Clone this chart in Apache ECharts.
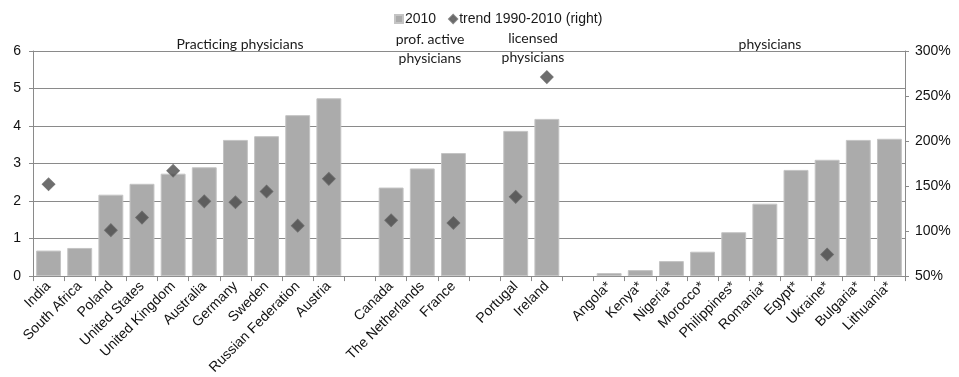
<!DOCTYPE html>
<html>
<head>
<meta charset="utf-8">
<title>physicians</title>
<script src="https://cdn.jsdelivr.net/npm/echarts@6/dist/echarts.min.js"></script>
<style>
	html,body{margin:0;padding:0;background:#fff;}
	#chart{width:959px;height:377px;}
</style>
</head>
<body>
<div id="chart"></div>
<script>
/*********
 * data  (gaps between groups = blank categories)
 * ******************/
var categories = ['India','South Africa','Poland','United States','United Kingdom','Australia','Germany','Sweden','Russian Federation','Austria',' ',
	'Canada','The Netherlands','France','  ',
	'Portugal','Ireland','   ',
	'Angola*','Kenya*','Nigeria*','Morocco*','Philippines*','Romania*','Egypt*','Ukraine*','Bulgaria*','Lithuania*'];

var values2010 = [0.68,0.75,2.17,2.46,2.73,2.90,3.63,3.73,4.29,4.74,null,
	2.36,2.87,3.28,null,
	3.87,4.19,null,
	0.08,0.16,0.40,0.65,1.17,1.93,2.83,3.10,3.63,3.66];

var trend = [152,null,101,115,167,133,132,144,106,158,null,
	112,null,109,null,
	138,271,null,
	null,null,null,null,null,null,null,74,null,null];

var leftTicks  = {min:0, max:6, interval:1};
var rightTicks = {min:50, max:300, interval:50};

var groupLabels = [
	{text:'Practicing physicians', x:240, y:44},
	{text:'prof. active\nphysicians', x:430, y:49},
	{text:'licensed\nphysicians', x:533, y:48},
	{text:'physicians', x:770, y:44}
];

var axisColor = '#8a8a8a';
var txtFont   = "'Liberation Sans', Arial, sans-serif";

//group titles above the bars
var graphics = [];
for(var i=0;i<groupLabels.length;i++){
	graphics.push({
		type:'text', x:groupLabels[i].x, y:groupLabels[i].y,
		style:{text:groupLabels[i].text, font:"14px Lato, sans-serif", fill:'#1a1a1a',
			textAlign:'center', textVerticalAlign:'middle', lineHeight:19}
	});
}

var ctx = echarts.init(document.getElementById('chart'));
ctx.setOption({
	animation:false,
	textStyle:{fontFamily:txtFont},
	legend:{
		left:389, top:7,
		itemGap:12, itemWidth:8, itemHeight:8,
		textStyle:{fontSize:14, color:'#1a1a1a', fontFamily:txtFont, padding:[0,0,0,-3]},
		data:[
			{name:'2010', icon:'rect'},
			{name:'trend 1990-2010 (right)', icon:'path://M0,-1L1,0L0,1L-1,0Z'}
		]
	},
	grid:{left:33, right:54, top:51, bottom:100, containLabel:false},
	xAxis:{
		type:'category', data:categories,
		axisLine:{lineStyle:{color:axisColor}},
		axisTick:{show:true, interval:0, length:5, lineStyle:{color:axisColor}},
		axisLabel:{interval:0, rotate:45, fontSize:14, color:'#111', margin:8, fontFamily:txtFont}
	},
	yAxis:[{
		type:'value', min:leftTicks.min, max:leftTicks.max, interval:leftTicks.interval,
		axisLine:{show:true, lineStyle:{color:axisColor}},
		axisTick:{show:true, length:4, lineStyle:{color:axisColor}},
		axisLabel:{fontSize:14, color:'#111', margin:12, fontFamily:txtFont},
		splitLine:{lineStyle:{color:axisColor}}
	},{
		type:'value', min:rightTicks.min, max:rightTicks.max, interval:rightTicks.interval,
		position:'right',
		axisLine:{show:true, lineStyle:{color:axisColor}},
		axisTick:{show:true, length:4, lineStyle:{color:axisColor}},
		axisLabel:{fontSize:14, color:'#111', margin:10, formatter:'{value}%', fontFamily:txtFont},
		splitLine:{show:false}
	}],
	series:[{
		name:'2010', type:'bar', data:values2010,
		barCategoryGap:'20%',
		itemStyle:{color:'#ababab', borderColor:'#c4c4c4', borderWidth:1}
	},{
		name:'trend 1990-2010 (right)', type:'scatter', yAxisIndex:1, data:trend,
		symbol:'rect', symbolRotate:45, symbolSize:9,
		itemStyle:{color:'#4a4a4a', borderColor:'#666', borderWidth:1}
	}],
	graphic:graphics
});
</script>
</body>
</html>
